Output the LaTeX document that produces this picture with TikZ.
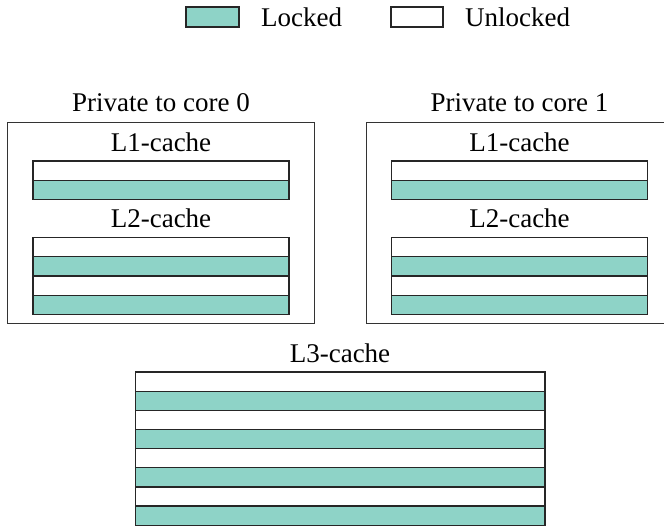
\documentclass[tikz,border=0pt]{standalone}
\usepackage{fontspec}
\setmainfont{Liberation Serif}
\usepackage{tikz}
\usetikzlibrary{positioning}
\definecolor{LockGreen}{RGB}{142,211,199}

\begin{document}
\begin{tikzpicture}[x=1pt,y=-1pt,line join=miter,font=\fontsize{27}{31}\selectfont,
  locked/.style={draw=black!85,line width=1.2pt,fill=LockGreen},
  unlocked/.style={draw=black!85,line width=1.2pt,fill=white},
  corebox/.style={draw=black!80,line width=1pt},
  lbl/.style={anchor=base,inner sep=0pt}]
\useasboundingbox (0,0) rectangle (664,526);

% legend
\draw [locked] (186,7) rectangle (239,27);
\node[lbl,anchor=base west] (lockedtxt) at (261,27) {Locked};
\draw [unlocked] (391,7) rectangle (443,27);
\node[lbl,anchor=base west] (unlockedtxt) at (465,27) {Unlocked};

% private caches, one box per core
\foreach \c/\x in {0/7.5,1/366}{
  \draw [corebox] (\x,122.5) rectangle (\x+306.5,324);
  \node[lbl] (core\c) at (\x+153.5,112) {Private to core \c};
  \node[lbl] (lone\c) at (\x+153.5,152) {L1-cache};
  \node[lbl] (ltwo\c) at (\x+153.5,228) {L2-cache};
  % L1 rows
  \foreach \r/\st in {0/unlocked,1/locked}
    \draw [\st] (\x+25.5,161+19.2*\r) rectangle (\x+281.5,161+19.2*\r+19.2);
  % L2 rows
  \foreach \r/\st in {0/unlocked,1/locked,2/unlocked,3/locked}
    \draw [\st] (\x+25.5,237.7+19.2*\r) rectangle (\x+281.5,237.7+19.2*\r+19.2);
}

% shared L3
\node[lbl] (lthree) at (340,363) {L3-cache};
\foreach \r/\st in {0/unlocked,1/locked,2/unlocked,3/locked,4/unlocked,5/locked,6/unlocked,7/locked}
  \draw [\st] (135.5,372+19.15*\r) rectangle (545,372+19.15*\r+19.15);

\end{tikzpicture}
\end{document}
